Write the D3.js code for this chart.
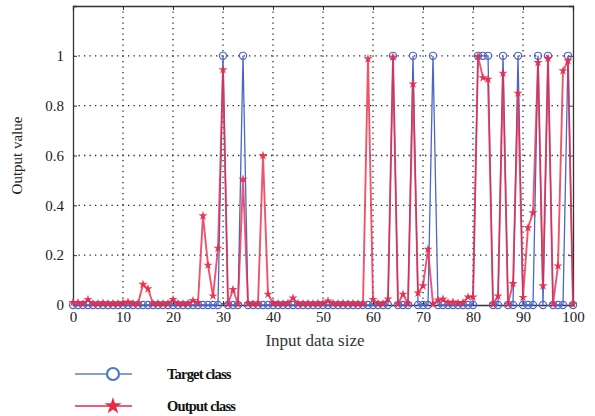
<!DOCTYPE html>
<html><head><meta charset="utf-8">
<script src="https://cdn.jsdelivr.net/npm/d3@7"></script>
<style>html,body{margin:0;padding:0;background:#fff;}svg{display:block;}</style>
</head><body>
<svg id="c" width="595" height="416"></svg>
<script>
const xTicks = [0,10,20,30,40,50,60,70,80,90,100];
const yTicks = [0,0.2,0.4,0.6,0.8,1];
const yTickLabels = ["0","0.2","0.4","0.6","0.8","1"];
const targetOnes = [30,34,64,68,72,81,82,83,86,89,93,95,99];
const targetClass = d3.range(0,101).map(i => targetOnes.includes(i) ? 1 : 0);
const outputClass = [
 0.01,0.01,0.005,0.022,0.005,0.005,0.008,0.005,0.006,0.005,
 0.008,0.012,0.006,0.005,0.083,0.065,0.005,0.006,0.005,0.006,
 0.022,0.006,0.005,0.006,0.018,0.01,0.358,0.16,0.036,0.228,
 0.944,0.004,0.062,0.004,0.505,0.006,0.004,0.005,0.6,0.043,
 0.008,0.006,0.005,0.008,0.028,0.006,0.005,0.006,0.005,0.007,
 0.006,0.016,0.006,0.005,0.007,0.005,0.006,0.005,0.004,0.988,
 0.022,0.006,0.005,0.024,0.995,0.004,0.043,0.006,0.887,0.048,
 0.077,0.224,0.004,0.02,0.024,0.01,0.012,0.008,0.01,0.032,
 0.032,0.997,0.912,0.906,0.004,0.036,0.93,0.004,0.086,0.85,
 0.03,0.31,0.37,0.973,0.077,0.99,0.004,0.157,0.94,0.98,
 0.004
];
const legendLabels = ["Target class","Output class"];
const xLabel = "Input data size";
const yLabel = "Output value";

const svg = d3.select("#c");
const L=73,R=573,T=6,B=305;
const x = d3.scaleLinear().domain([0,100]).range([L,R]);
const y = d3.scaleLinear().domain([0,1.2]).range([B,T]);
const serif = "'Liberation Serif','Times New Roman',serif";
const blue = "#4a66c8", red = "#e82a48";

// grid
const g = svg.append("g");
g.selectAll(".vg").data(xTicks.filter(d=>d>0&&d<100)).join("line")
  .attr("x1",d=>x(d)).attr("x2",d=>x(d)).attr("y1",T).attr("y2",B)
  .attr("stroke","#222").attr("stroke-width",1.3).attr("stroke-dasharray","1.3,4.2");
g.selectAll(".hg").data(yTicks.filter(d=>d>0)).join("line")
  .attr("y1",d=>y(d)).attr("y2",d=>y(d)).attr("x1",L).attr("x2",R)
  .attr("stroke","#222").attr("stroke-width",1.3).attr("stroke-dasharray","1.3,4.2");

// axes
const xa = svg.append("g").attr("transform",`translate(0,${B})`)
  .call(d3.axisBottom(x).tickValues(xTicks).tickSize(-4).tickPadding(9).tickFormat(d3.format("d")));
const xt = svg.append("g").attr("transform",`translate(0,${T})`)
  .call(d3.axisTop(x).tickValues(xTicks).tickSize(-4).tickFormat(""));
const ya = svg.append("g").attr("transform",`translate(${L},0)`)
  .call(d3.axisLeft(y).tickValues(yTicks).tickSize(-4).tickPadding(9).tickFormat((d,i)=>yTickLabels[i]));
const yr = svg.append("g").attr("transform",`translate(${R},0)`)
  .call(d3.axisRight(y).tickValues(yTicks).tickSize(-4).tickFormat(""));
[xa,xt,ya,yr].forEach(a=>{
  a.select(".domain").attr("stroke","#333").attr("stroke-width",1.3);
  a.selectAll(".tick line").attr("stroke","#333");
  a.selectAll("text").attr("font-family",serif).attr("font-size",15).attr("fill","#222");
});
xa.selectAll("text").attr("dy","0.5em");

svg.append("defs").append("clipPath").attr("id","clip")
  .append("rect").attr("x",L-5).attr("y",T-5).attr("width",R-L+10).attr("height",B-T+10);
const plot = svg.append("g").attr("clip-path","url(#clip)");

const line = d3.line().x((d,i)=>x(i)).y(d=>y(d));
plot.append("path").datum(targetClass).attr("d",line).attr("fill","none")
  .attr("stroke",blue).attr("stroke-width",1.3);
plot.append("path").datum(outputClass).attr("d",line).attr("fill","none")
  .attr("stroke",red).attr("stroke-width",1.9).attr("stroke-opacity",0.8);
plot.selectAll(".bc").data(targetClass).join("circle")
  .attr("cx",(d,i)=>x(i)).attr("cy",d=>y(d)).attr("r",3.6)
  .attr("fill","none").attr("stroke",blue).attr("stroke-width",1.2);
const star = d3.symbol().type(d3.symbolStar).size(26);
plot.selectAll(".rs").data(outputClass).join("path")
  .attr("d",star).attr("transform",(d,i)=>`translate(${x(i)},${y(d)})`)
  .attr("fill",red).attr("fill-opacity",0.9);

// axis labels
svg.append("text").attr("x",(L+R)/2-8).attr("y",346).attr("text-anchor","middle")
  .attr("font-family",serif).attr("font-size",17).attr("fill","#333").text(xLabel);
svg.append("text").attr("transform",`translate(22,${(T+B)/2}) rotate(-90)`).attr("text-anchor","middle")
  .attr("font-family",serif).attr("font-size",15).attr("fill","#222").text(yLabel);

// legend
const lg = svg.append("g");
const ly = [374,406];
lg.append("line").attr("x1",75).attr("x2",132).attr("y1",ly[0]).attr("y2",ly[0]).attr("stroke","#5a7fc8").attr("stroke-width",1.3);
lg.append("circle").attr("cx",113).attr("cy",ly[0]).attr("r",6).attr("fill","#fff").attr("stroke","#4a78c0").attr("stroke-width",2.2);
lg.append("line").attr("x1",75).attr("x2",132).attr("y1",ly[1]).attr("y2",ly[1]).attr("stroke",red).attr("stroke-width",1.3);
lg.append("path").attr("d",d3.symbol().type(d3.symbolStar).size(90)).attr("transform",`translate(113,${ly[1]})`).attr("fill",red);
lg.selectAll(".lt").data(legendLabels).join("text")
  .attr("x",167).attr("y",(d,i)=>ly[i]+5)
  .attr("font-family",serif).attr("font-size",14.5).attr("font-weight","bold").attr("letter-spacing","-0.8")
  .attr("fill","#111").text(d=>d);
</script>
</body></html>
